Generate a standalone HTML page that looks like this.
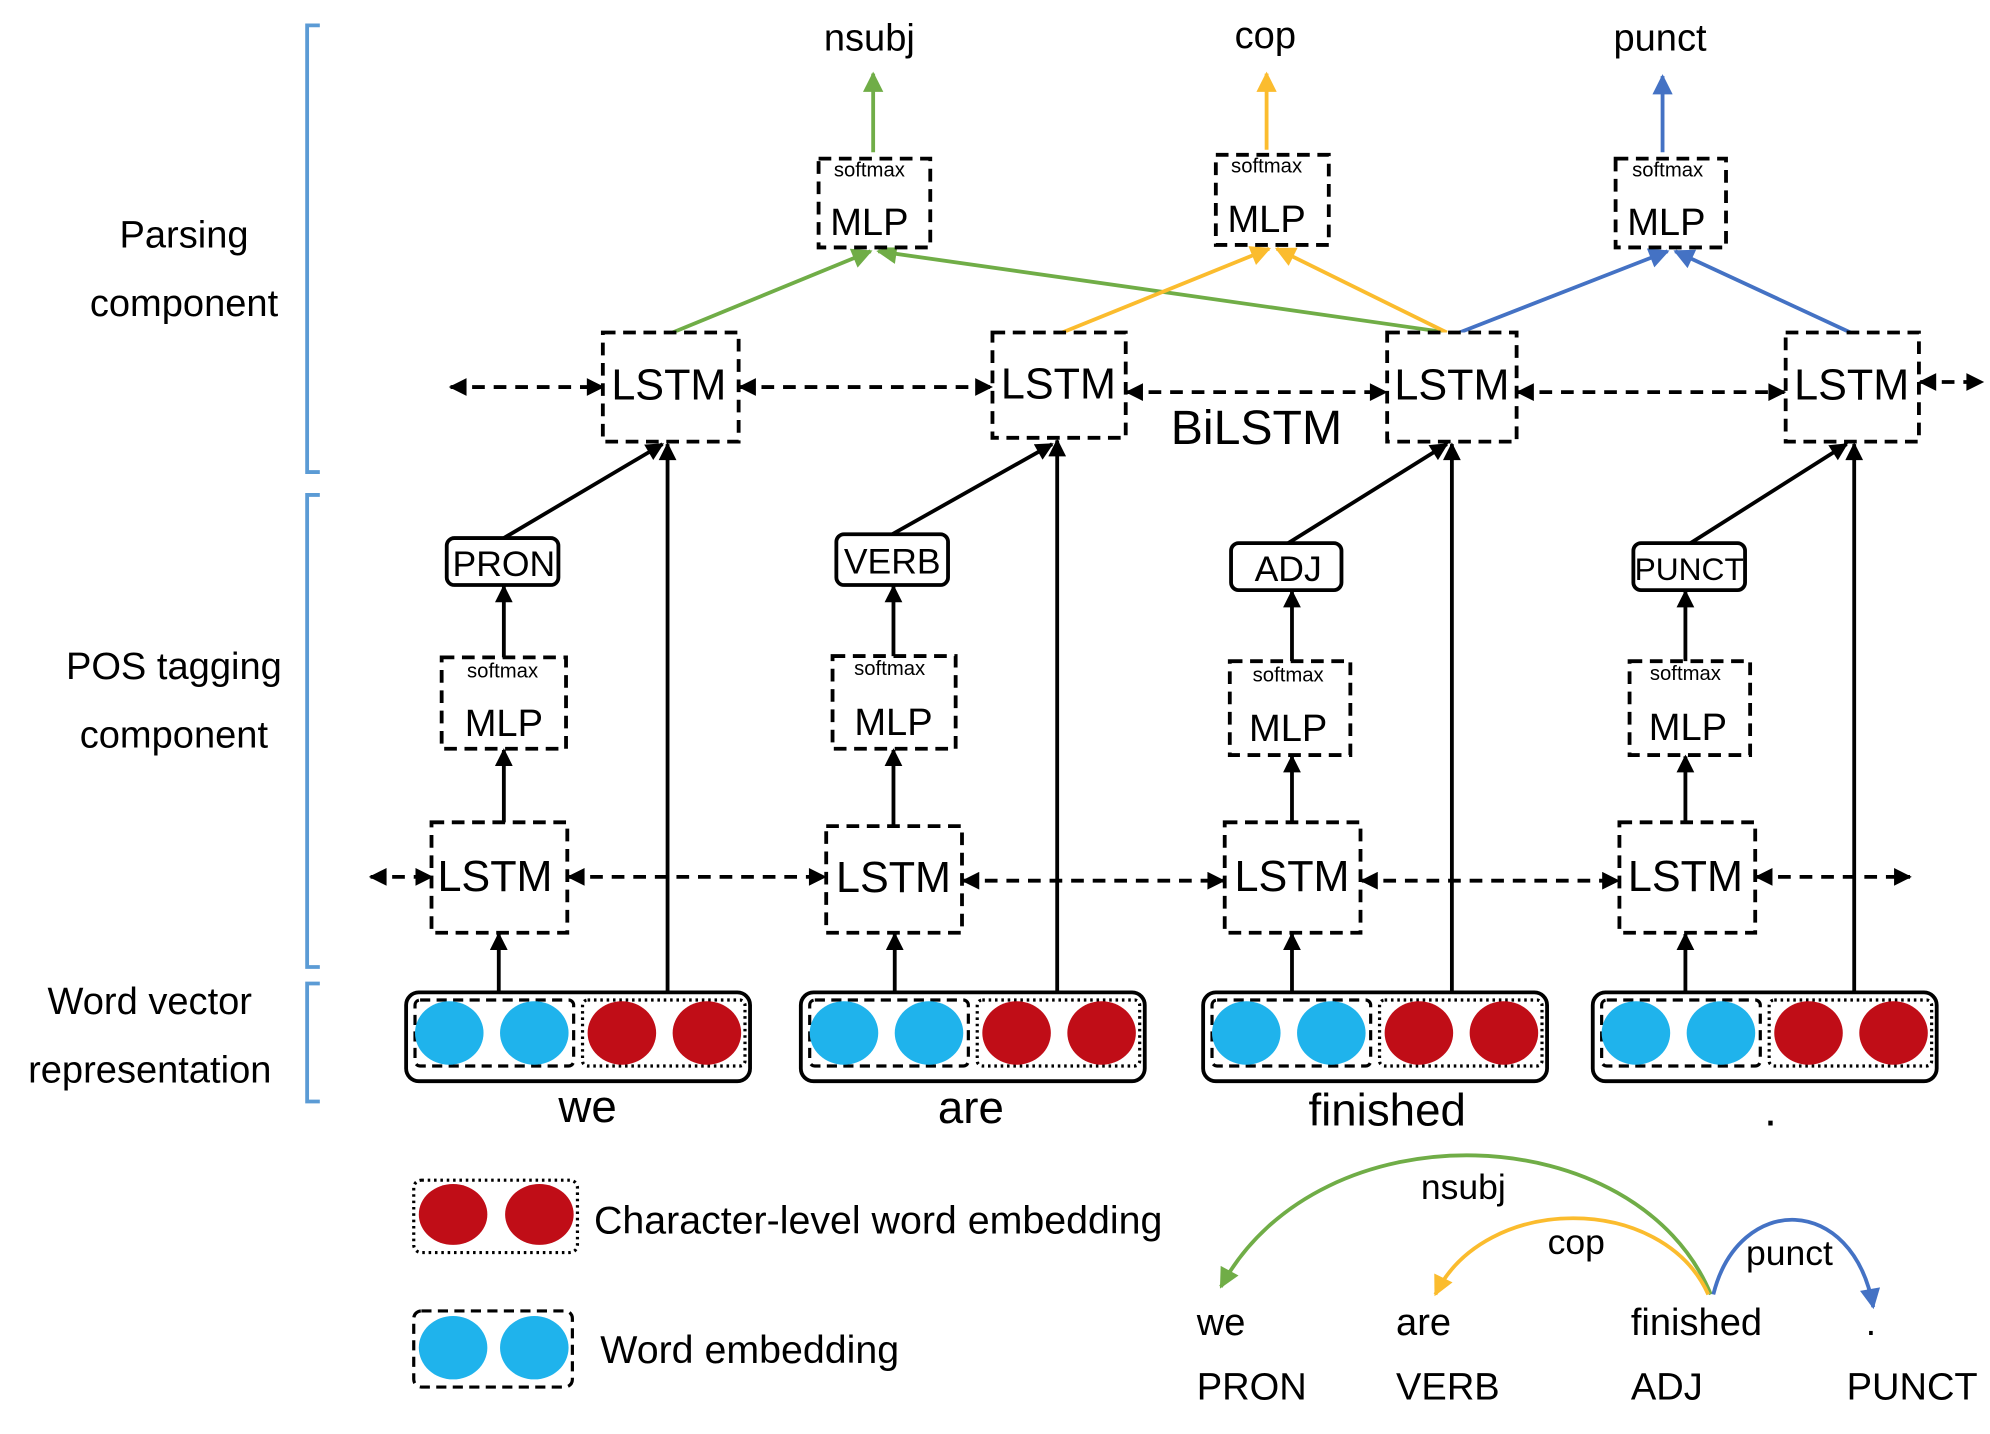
<!DOCTYPE html>
<html><head><meta charset="utf-8"><style>html,body{margin:0;padding:0;background:#fff}svg{display:block}</style></head>
<body>
<svg width="1990" height="1434" viewBox="0 0 1568 1130" preserveAspectRatio="none" xmlns="http://www.w3.org/2000/svg" font-family="Liberation Sans, sans-serif">
<defs>
<marker id="ab" viewBox="0 0 10 10" refX="9" refY="5" markerWidth="16" markerHeight="14" orient="auto-start-reverse" markerUnits="userSpaceOnUse"><path d="M0,0L10,5L0,10z" fill="#000"/></marker>
<marker id="ag" viewBox="0 0 10 10" refX="9" refY="5" markerWidth="22" markerHeight="16" orient="auto" markerUnits="userSpaceOnUse"><path d="M0,0L10,5L0,10z" fill="#70ad47"/></marker>
<marker id="ao" viewBox="0 0 10 10" refX="9" refY="5" markerWidth="22" markerHeight="16" orient="auto" markerUnits="userSpaceOnUse"><path d="M0,0L10,5L0,10z" fill="#fbbc2e"/></marker>
<marker id="abl" viewBox="0 0 10 10" refX="9" refY="5" markerWidth="22" markerHeight="16" orient="auto" markerUnits="userSpaceOnUse"><path d="M0,0L10,5L0,10z" fill="#4472c4"/></marker>
</defs>
<g stroke="#5b9bd5" stroke-width="3" fill="none">
<path d="M252,20H242V372H252"/><path d="M252,390H242V762H252"/><path d="M252,775H242V868H252"/>
</g>
<g font-size="30" text-anchor="middle" fill="#000">
<text x="145" y="195">Parsing</text><text x="145" y="249">component</text>
<text x="137" y="535">POS tagging</text><text x="137" y="589">component</text>
<text x="118" y="799">Word  vector</text><text x="118" y="853">representation</text>
</g>
<g stroke-width="3" fill="none">
<line x1="530" y1="262" x2="686" y2="198" stroke="#70ad47" marker-end="url(#ag)"/>
<line x1="1140" y1="262" x2="692" y2="198" stroke="#70ad47" marker-end="url(#ag)"/>
<line x1="837" y1="262" x2="1000" y2="196" stroke="#fbbc2e" marker-end="url(#ao)"/>
<line x1="1140" y1="262" x2="1006" y2="196" stroke="#fbbc2e" marker-end="url(#ao)"/>
<line x1="1150" y1="262" x2="1314" y2="198" stroke="#4472c4" marker-end="url(#abl)"/>
<line x1="1458" y1="262" x2="1320" y2="198" stroke="#4472c4" marker-end="url(#abl)"/>
<line x1="688" y1="120" x2="688" y2="58" stroke="#70ad47" marker-end="url(#ag)"/>
<line x1="998" y1="118" x2="998" y2="58" stroke="#fbbc2e" marker-end="url(#ao)"/>
<line x1="1310" y1="120" x2="1310" y2="60" stroke="#4472c4" marker-end="url(#abl)"/>
</g>
<g font-size="30" text-anchor="middle"><text x="685" y="40">nsubj</text><text x="997" y="38">cop</text><text x="1308" y="40">punct</text></g>
<g fill="#fff" stroke="#000" stroke-width="3" stroke-dasharray="10,6">
<rect x="475" y="262" width="107" height="86"/><rect x="782" y="262" width="105" height="83"/><rect x="1093" y="262" width="102" height="86"/><rect x="1407" y="262" width="105" height="86"/>
<rect x="645" y="125" width="88" height="70"/><rect x="958" y="122" width="89" height="71"/><rect x="1273" y="125" width="87" height="70"/>
<rect x="348" y="518" width="98" height="72"/><rect x="656" y="517" width="97" height="73"/><rect x="969" y="521" width="95" height="74"/><rect x="1284" y="521" width="95" height="74"/>
<rect x="340" y="648" width="107" height="87"/><rect x="651" y="651" width="107" height="84"/><rect x="965" y="648" width="107" height="87"/><rect x="1276" y="648" width="107" height="87"/>
</g>
<g font-size="34" text-anchor="middle">
<text x="527" y="315">LSTM</text><text x="834" y="314">LSTM</text><text x="1144" y="315">LSTM</text><text x="1459" y="315">LSTM</text>
<text x="390" y="702">LSTM</text><text x="704" y="703">LSTM</text><text x="1018" y="702">LSTM</text><text x="1328" y="702">LSTM</text>
</g>
<g font-size="30" text-anchor="middle">
<text x="685" y="185">MLP</text><text x="998" y="183">MLP</text><text x="1313" y="185">MLP</text>
<text x="397" y="580">MLP</text><text x="704" y="579">MLP</text><text x="1015" y="584">MLP</text><text x="1330" y="583">MLP</text>
</g>
<g font-size="16" text-anchor="middle">
<text x="685" y="139">softmax</text><text x="998" y="136">softmax</text><text x="1314" y="139">softmax</text>
<text x="396" y="534">softmax</text><text x="701" y="532">softmax</text><text x="1015" y="537">softmax</text><text x="1328" y="536">softmax</text>
</g>
<text x="990" y="350" font-size="38" text-anchor="middle">BiLSTM</text>
<g stroke="#000" stroke-width="3" stroke-dasharray="10,7" marker-start="url(#ab)" marker-end="url(#ab)">
<line x1="355" y1="305" x2="475" y2="305"/><line x1="583" y1="305" x2="781" y2="305"/><line x1="888" y1="309" x2="1092" y2="309"/><line x1="1196" y1="309" x2="1406" y2="309"/><line x1="1513" y1="301" x2="1562" y2="301"/>
<line x1="292" y1="691" x2="340" y2="691"/><line x1="448" y1="691" x2="650" y2="691"/><line x1="759" y1="694" x2="964" y2="694"/><line x1="1073" y1="694" x2="1275" y2="694"/><line x1="1384" y1="691" x2="1505" y2="691"/>
</g>
<g stroke="#000" stroke-width="3" marker-end="url(#ab)">
<line x1="397" y1="424" x2="522" y2="350"/><line x1="703" y1="421" x2="829" y2="350"/><line x1="1015" y1="428" x2="1140" y2="350"/><line x1="1332" y1="428" x2="1455" y2="350"/>
<line x1="526" y1="782" x2="526" y2="350"/><line x1="833" y1="782" x2="833" y2="347"/><line x1="1144" y1="782" x2="1144" y2="350"/><line x1="1461" y1="782" x2="1461" y2="350"/>
<line x1="393" y1="782" x2="393" y2="736"/><line x1="705" y1="782" x2="705" y2="736"/><line x1="1018" y1="782" x2="1018" y2="736"/><line x1="1328" y1="782" x2="1328" y2="736"/>
<line x1="397" y1="648" x2="397" y2="591"/><line x1="704" y1="651" x2="704" y2="591"/><line x1="1018" y1="648" x2="1018" y2="596"/><line x1="1328" y1="648" x2="1328" y2="596"/>
<line x1="397" y1="518" x2="397" y2="462"/><line x1="704" y1="517" x2="704" y2="462"/><line x1="1018" y1="521" x2="1018" y2="466"/><line x1="1328" y1="521" x2="1328" y2="466"/>
</g>
<g fill="#fff" stroke="#000" stroke-width="3">
<rect x="352" y="424" width="88" height="37" rx="6"/><rect x="659" y="421" width="88" height="40" rx="6"/><rect x="970" y="428" width="87" height="37" rx="6"/><rect x="1287" y="428" width="88" height="37" rx="6"/>
</g>
<g font-size="28" text-anchor="middle"><text x="397" y="454">PRON</text><text x="703" y="452">VERB</text><text x="1015" y="458">ADJ</text><text x="1331" y="457" font-size="25">PUNCT</text></g>
<g id="emb">
<rect x="320" y="782" width="271" height="70" rx="10" fill="#fff" stroke="#000" stroke-width="3"/>
<rect x="327" y="788" width="125" height="52" rx="4" fill="none" stroke="#000" stroke-width="2.5" stroke-dasharray="8,5"/>
<rect x="459" y="788" width="128" height="52" rx="4" fill="none" stroke="#000" stroke-width="2.5" stroke-dasharray="2,3"/>
<ellipse cx="354" cy="814" rx="27" ry="25" fill="#1fb3ec"/><ellipse cx="421" cy="814" rx="27" ry="25" fill="#1fb3ec"/>
<ellipse cx="490" cy="814" rx="27" ry="25" fill="#c00d17"/><ellipse cx="557" cy="814" rx="27" ry="25" fill="#c00d17"/>
</g>
<use href="#emb" x="311"/><use href="#emb" x="628"/><use href="#emb" x="935"/>
<g font-size="36" text-anchor="middle"><text x="463" y="884">we</text><text x="765" y="885">are</text><text x="1093" y="887">finished</text><text x="1395" y="887">.</text></g>
<rect x="326" y="930" width="129" height="57" rx="6" fill="none" stroke="#000" stroke-width="2.5" stroke-dasharray="2,3"/>
<ellipse cx="357" cy="957" rx="27" ry="24" fill="#c00d17"/><ellipse cx="425" cy="957" rx="27" ry="24" fill="#c00d17"/>
<text x="468" y="972" font-size="31">Character-level word  embedding</text>
<rect x="326" y="1033" width="125" height="60" rx="6" fill="none" stroke="#000" stroke-width="2.5" stroke-dasharray="8,5"/>
<ellipse cx="357" cy="1062" rx="27" ry="25" fill="#1fb3ec"/><ellipse cx="421" cy="1062" rx="27" ry="25" fill="#1fb3ec"/>
<text x="473" y="1074" font-size="31">Word  embedding</text>
<g stroke-width="3" fill="none">
<path d="M1348,1020C1290,880 1040,870 962,1014" stroke="#70ad47" marker-end="url(#ag)"/>
<path d="M1346,1020C1310,940 1170,940 1131,1020" stroke="#fbbc2e" marker-end="url(#ao)"/>
<path d="M1350,1020C1370,940 1460,940 1476,1030" stroke="#4472c4" marker-end="url(#abl)"/>
</g>
<g font-size="28" text-anchor="middle"><text x="1153" y="945">nsubj</text><text x="1242" y="988">cop</text><text x="1410" y="997">punct</text></g>
<g font-size="30"><text x="943" y="1052">we</text><text x="1100" y="1052">are</text><text x="1285" y="1052">finished</text><text x="1470" y="1052">.</text>
<text x="943" y="1103">PRON</text><text x="1100" y="1103">VERB</text><text x="1285" y="1103">ADJ</text><text x="1455" y="1103">PUNCT</text></g>
</svg>
</body></html>
